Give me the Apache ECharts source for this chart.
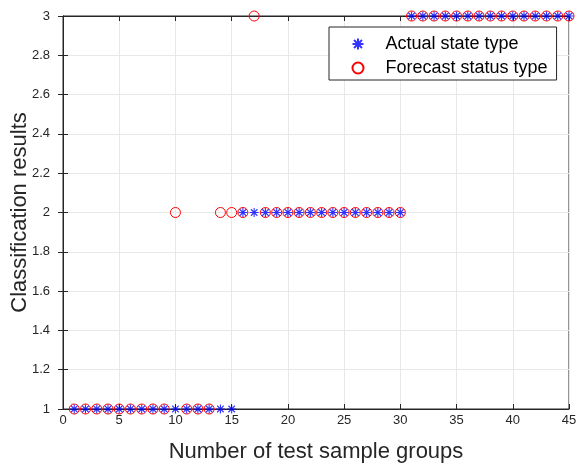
<!DOCTYPE html>
<html>
<head>
<meta charset="utf-8">
<script src="https://cdn.jsdelivr.net/npm/echarts@6/dist/echarts.min.js"></script>
<style>
  html, body { margin: 0; padding: 0; background: #fff; }
  #main { width: 576px; height: 465px; }
</style>
</head>
<body>
<div id="main"></div>
<script>
// sample group numbers 1..45
var groups = [1,2,3,4,5,6,7,8,9,10,11,12,13,14,15,16,17,18,19,20,21,22,23,24,25,26,27,28,29,30,31,32,33,34,35,36,37,38,39,40,41,42,43,44,45];
var actualType = [1,1,1,1,1,1,1,1,1,1,1,1,1,1,1, 2,2,2,2,2,2,2,2,2,2,2,2,2,2,2, 3,3,3,3,3,3,3,3,3,3,3,3,3,3,3];
var forecastType = [1,1,1,1,1,1,1,1,1,2,1,1,1,2,2, 2,3,2,2,2,2,2,2,2,2,2,2,2,2,2, 3,3,3,3,3,3,3,3,3,3,3,3,3,3,3];

var starPath = 'path://M0,-5L0,5M-5,0L5,0M-3.6,-3.6L3.6,3.6M-3.6,3.6L3.6,-3.6';
var textColor = '#262626';
var fontFam = 'Liberation Sans, Arial, sans-serif';

function pairs(ys) {
  return groups.map(function (g, i) { return [g, ys[i]]; });
}

var chart = echarts.init(document.getElementById('main'));

var option = {
  animation: false,
  backgroundColor: '#fff',
  grid: {
    left: 63, right: 7, top: 16, bottom: 56,
    outerBoundsMode: 'none',
    containLabel: false,
    show: true, borderColor: textColor, borderWidth: 1
  },
  legend: {
    orient: 'vertical',
    left: 329, top: 27,
    padding: [8, 9, 3, 21],
    itemGap: 6,
    itemWidth: 11, itemHeight: 11,
    backgroundColor: '#fff',
    borderColor: textColor, borderWidth: 1,
    textStyle: { fontSize: 18, color: '#000', fontFamily: fontFam, padding: [0, 0, 0, 17] },
    data: ['Actual state type', 'Forecast status type']
  },
  xAxis: [{
    type: 'value', min: 0, max: 45, interval: 5,
    name: 'Number of test sample groups',
    nameLocation: 'middle', nameGap: 32, nameMoveOverlap: false,
    nameTextStyle: { fontSize: 22, color: textColor, fontFamily: fontFam },
    axisLine: { lineStyle: { color: textColor } },
    axisTick: { inside: true, length: 5, lineStyle: { color: textColor } },
    axisLabel: { fontSize: 13, color: textColor, fontFamily: fontFam, margin: 5 },
    splitLine: { show: true, lineStyle: { color: '#e8e8e8' } }
  }, {
    type: 'value', min: 0, max: 45, interval: 5, position: 'top',
    axisLine: { lineStyle: { color: textColor } },
    axisTick: { inside: true, length: 5, lineStyle: { color: textColor } },
    axisLabel: { show: false }, splitLine: { show: false }
  }],
  yAxis: [{
    type: 'value', min: 1, max: 3, interval: 0.2,
    name: 'Classification results',
    nameLocation: 'middle', nameGap: 32, nameMoveOverlap: false,
    nameTextStyle: { fontSize: 22, color: textColor, fontFamily: fontFam },
    axisLine: { show: true, lineStyle: { color: textColor } },
    axisTick: { show: true, inside: true, length: 5, lineStyle: { color: textColor } },
    axisLabel: { fontSize: 13, color: textColor, fontFamily: fontFam, margin: 13 },
    splitLine: { show: true, lineStyle: { color: '#e8e8e8' } }
  }, {
    type: 'value', min: 1, max: 3, interval: 0.2, position: 'right',
    axisLine: { show: true, lineStyle: { color: textColor } },
    axisTick: { show: true, inside: true, length: 5, lineStyle: { color: textColor } },
    axisLabel: { show: false }, splitLine: { show: false }
  }],
  series: [{
    name: 'Actual state type',
    type: 'scatter',
    data: pairs(actualType),
    symbol: starPath,
    symbolSize: 9,
    clip: false,
    itemStyle: { color: 'none', borderColor: '#0000ff', borderWidth: 1.1 },
    z: 3
  }, {
    name: 'Forecast status type',
    type: 'scatter',
    data: pairs(forecastType),
    symbol: 'circle',
    symbolSize: 10,
    clip: false,
    itemStyle: { color: 'rgba(0,0,0,0)', opacity: 1, borderColor: '#ff0000', borderWidth: 1 },
    z: 2
  }]
};

chart.setOption(option);
</script>
</body>
</html>
